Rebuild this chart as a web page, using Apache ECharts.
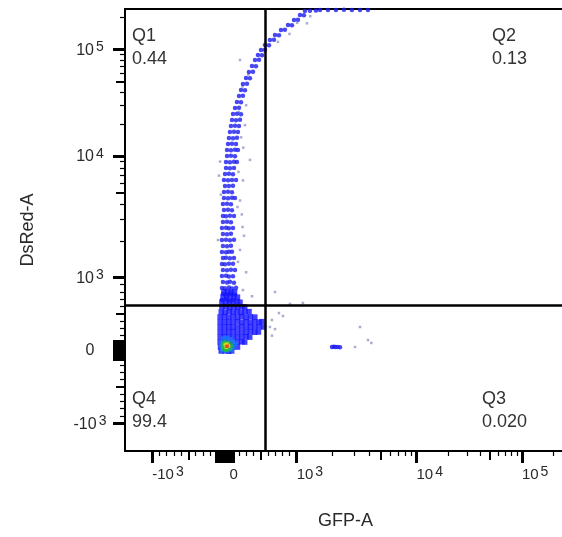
<!DOCTYPE html>
<html><head><meta charset="utf-8">
<script src="https://cdn.jsdelivr.net/npm/echarts@6/dist/echarts.min.js"></script>
<style>html,body{margin:0;padding:0;background:#fff}#c{width:562px;height:537px}</style>
</head><body><div id="c"></div>
<script>
// ---- axis ranges (raw fluorescence units) and gates ----
const xRange = [-1689, 262144];
const yRange = [-1693, 239700];
const gateX = 568;
const gateY = 613;

// ---- quadrant statistics ----
const quadrantNames = ['Q1', 'Q2', 'Q3', 'Q4'];
const quadrantValues = ['0.44', '0.13', '0.020', '99.4'];

// ---- tick marks (raw units) ----
const majorTicks = [-1000, 1000, 10000, 100000];
const zeroBlockTicks = [-120, -96, -72, -48, -24, 0, 24, 48, 72, 96, 120];
const mediumTicks = [-500, 500, 5000, 50000];
const minorTicks = [-900, -800, -700, -600, -400, -300, -200, 200, 300, 400, 600, 700, 800, 900,
  2000, 3000, 4000, 6000, 7000, 8000, 9000, 20000, 30000, 40000, 60000, 70000, 80000, 90000, 200000];
const tickLabelValues = [-1000, 0, 1000, 10000, 100000];
const tickLabelBase = ['-10', '0', '10', '10', '10'];
const tickLabelExp = ['3', '', '3', '4', '5'];

// ---- events [GFP-A, DsRed-A], by density level ----
const sparsePts = [
  [284,19500],[353,9300],[256,6300],[215,4300],[240,3300],[270,2200],[215,1680],[187,1340],[256,825],[381,740],
  [-90,2030],[-76,6900],[215,79700],[1010,178000],[1219,176000],[741,117700],[700,798],[1128,647],[810,469],
  [755,510],[907,635],[658,415],[630,319],[700,290],[658,200],[230,15000],[260,12000],[200,26000],[300,30000],
  [180,3800],[250,2600],[300,1100],[-60,9000],[-50,4800],[195,7400],[250,45000],[330,58000],[560,95000],
  [900,140000],[1300,205000],[3069,45],[3377,319],[3936,140],[4200,100]
];
const streamPts = [
  [-35,688],[21,700],[62,680],[118,690],
  [-21,771],[35,765],[90,775],[146,760],
  [-35,853],[7,850],[62,860],[104,845],[160,855],
  [-21,935],[35,930],[76,940],[132,925],
  [-35,1024],[21,1030],[62,1015],[118,1020],
  [-21,1148],[35,1140],[90,1155],[146,1150],
  [-35,1287],[7,1280],[62,1295],[118,1290],
  [-21,1442],[21,1450],[76,1435],[132,1445],
  [-35,1616],[21,1610],[62,1625],[104,1620],
  [-21,1811],[35,1800],[90,1820],
  [-35,2028],[21,2035],[76,2020],[132,2040],
  [-21,2275],[35,2260],[90,2290],
  [-35,2550],[21,2560],[62,2540],[118,2555],
  [-21,2857],[35,2870],[90,2845],
  [-21,3202],[21,3190],[76,3215],[132,3200],
  [-7,3589],[49,3600],[104,3575],
  [-21,4023],[35,4040],[90,4010],
  [-7,4508],[49,4490],[104,4520],[146,4500],
  [-7,5052],[49,5070],[104,5040],
  [7,5662],[62,5650],[118,5680],
  [-7,6345],[49,6330],[104,6360],[160,6340],
  [7,7111],[62,7130],[118,7090],
  [21,7970],[76,7950],[132,7990],
  [21,8932],[76,8900],[132,8960],[173,8920],
  [35,10016],[90,10050],[146,9980],
  [35,11400],[90,11350],[146,11450],[187,11420],
  [49,12985],[104,13050],[160,12950],
  [62,14780],[118,14700],[173,14850],
  [76,16830],[132,16900],[187,16780],
  [90,19150],[146,19250],[201,19100],
  [104,21800],[160,21700],[215,21900],
  [118,24810],[173,24900],[229,24700],
  [146,28250],[201,28400],
  [173,32170],[229,32000],
  [201,36620],[256,36800],
  [229,41660],[284,41500],
  [256,47470],[312,47700],
  [298,54030],[353,53800],
  [339,61520],[395,61800],
  [381,70000],[436,69700],
  [423,79660],[478,80000],
  [464,88870],[520,88500],
  [506,98850],[561,99300],
  [561,110100],[617,109600],
  [630,122700],[686,123300],
  [700,136700],[755,136000],
  [783,152400],[838,153200],
  [880,169900],[935,169000],
  [963,189200],[1025,190100],
  [1066,210800],[1150,209900],
  [1173,229400],[1291,230500],[1448,231500],
  [1566,234700],[1825,235200],[2128,234900],[2481,235300],[2890,234800],[3377,235100],[3936,234900],
  [1971,45],[2040,48],[2110,44],[2200,46],[2300,43]
];
const blobPts = [
  [-7,798],[40,805],[90,790],[140,800],
  [-20,730],[30,735],[80,725],[130,732],[180,728],
  [-35,661],[15,665],[70,655],[125,660],[175,668],[215,658],
  [-35,593],[20,598],[75,590],[130,595],[185,588],[240,596],[280,592],
  [-45,524],[10,520],[65,528],[120,522],[175,526],[230,518],[285,524],[340,530],
  [-60,456],[0,460],[60,452],[120,458],[180,455],[240,462],[300,450],[360,458],[420,455],
  [-60,387],[0,390],[60,384],[120,388],[180,392],[240,385],[300,389],[360,383],[420,390],[480,386],[520,392],
  [-60,319],[0,322],[60,316],[120,320],[180,318],[240,324],[300,317],[360,321],[420,318],[480,322],[540,319],
  [-60,250],[0,252],[60,248],[120,255],[180,246],[240,251],[300,249],[360,253],[420,247],[470,250],
  [-60,182],[0,185],[60,180],[120,184],[180,178],[240,183],[300,186],[350,180],
  [-60,113],[0,116],[60,110],[120,114],[180,111],[240,117],[280,112],
  [-55,45],[0,48],[60,42],[120,46],[180,44],
  [-45,-10],[10,-8],[60,-12],[100,-9]
];
const cyanPts = [[-20,160],[30,170],[80,150],[120,120],[150,90],[-40,100],[-40,40],[130,40],[100,0],[30,-5],[-30,0]];
const greenPts = [[-20,100],[20,110],[60,100],[-25,60],[90,65],[-20,20],[80,25],[20,5],[50,10]];
const yellowPts = [[10,75],[35,85],[55,60],[25,40]];
const redPts = [[40,60],[30,52]];

// ---- biexponential-style display transform (linear near 0, log beyond +-10^3) ----
const LIN = 1000, D1 = 1.66, D2 = 1.46;
function tf(v) {
  const a = Math.abs(v), s = v < 0 ? -1 : 1;
  let t;
  if (a <= LIN) t = a / LIN;
  else {
    const L = Math.log10(a);
    t = L <= 4 ? 1 + (L - 3) * D1 : 1 + D1 + (L - 4) * D2;
  }
  return s * t;
}
const pts = arr => arr.map(p => [tf(p[0]), tf(p[1])]);

const FONT = "'Liberation Sans', Arial, sans-serif";
const TXT = '#2a2a2a';

function nearest(v) {
  let bi = 0, bd = Infinity;
  tickLabelValues.forEach((u, i) => { const d = Math.abs(tf(u) - v); if (d < bd) { bd = d; bi = i; } });
  return bi;
}
function fmt(v) {
  const i = nearest(v);
  return tickLabelExp[i] ? '{b|' + tickLabelBase[i] + '}{s|' + tickLabelExp[i] + '}' : '{z|' + tickLabelBase[i] + '}';
}

function mkAxis(kind, role) {
  const range = kind === 'x' ? xRange : yRange;
  const ax = {
    type: 'value', gridIndex: 0, min: tf(range[0]), max: tf(range[1]),
    position: kind === 'x' ? 'bottom' : 'left',
    axisLine: { show: false, onZero: false },
    splitLine: { show: false },
    axisLabel: { show: false },
    axisTick: { show: true, inside: false }
  };
  if (role === 'major') {
    ax.axisTick = { show: true, inside: false, length: 12, lineStyle: { color: '#000', width: 3 },
      customValues: majorTicks.concat(zeroBlockTicks).map(tf) };
    const rich = kind === 'x' ? {
      b: { fontSize: 15, lineHeight: 17, padding: [12, 0, 0, 0], verticalAlign: 'bottom', color: TXT, fontFamily: FONT },
      s: { fontSize: 14, lineHeight: 16, padding: [0, 0, 0, 2], verticalAlign: 'top', color: TXT, fontFamily: FONT },
      z: { fontSize: 15, lineHeight: 17, padding: [12, 0, 0, 5], verticalAlign: 'bottom', color: TXT, fontFamily: FONT }
    } : {
      b: { fontSize: 16, lineHeight: 18, padding: [12, 0, 0, 0], verticalAlign: 'bottom', color: TXT, fontFamily: FONT },
      s: { fontSize: 14, lineHeight: 16, padding: [0, 0, 0, 2], verticalAlign: 'top', color: TXT, fontFamily: FONT },
      z: { fontSize: 16, lineHeight: 18, color: TXT, fontFamily: FONT }
    };
    ax.axisLabel = {
      show: true, customValues: tickLabelValues.map(tf), formatter: fmt, rich: rich,
      align: kind === 'x' ? 'left' : 'center', margin: kind === 'x' ? 14 : 35
    };
    ax.name = kind === 'x' ? 'GFP-A' : 'DsRed-A';
    ax.nameLocation = 'middle';
    ax.nameGap = kind === 'x' ? 61 : 88;
    ax.nameTextStyle = { fontSize: 18, color: TXT, fontFamily: FONT };
  } else if (role === 'medium') {
    ax.axisTick = { show: true, inside: false, length: 9, lineStyle: { color: '#000', width: 2 },
      customValues: mediumTicks.map(tf) };
  } else {
    ax.axisTick = { show: true, inside: false, length: 5, lineStyle: { color: '#000', width: 1.2 },
      customValues: minorTicks.map(tf) };
  }
  return ax;
}

function sc(name, data, color, size, symbol) {
  return { name: name, type: 'scatter', data: pts(data), symbol: symbol || 'rect', symbolSize: size,
    itemStyle: { color: color }, silent: true, animation: false };
}

const chart = echarts.init(document.getElementById('c'), null, { renderer: 'canvas' });

const qStyle = { font: "18px 'Liberation Sans', Arial, sans-serif", fill: '#333', lineHeight: 23 };
chart.setOption({
  animation: false,
  backgroundColor: '#fff',
  grid: { left: 125, top: 9, right: -4, bottom: 86, show: true, borderColor: '#000', borderWidth: 2,
    outerBoundsMode: 'none', containLabel: false },
  xAxis: [mkAxis('x', 'major'), mkAxis('x', 'medium'), mkAxis('x', 'minor')],
  yAxis: [mkAxis('y', 'major'), mkAxis('y', 'medium'), mkAxis('y', 'minor')],
  series: [
    sc('sparse', sparsePts, 'rgba(105,105,175,0.7)', 2.5),
    sc('stream', streamPts, '#1c1cf0', 4.5, 'circle'),
    sc('dense', blobPts, '#1414ff', 5.5),
    sc('high', cyanPts, '#1a78ff', 4.5),
    sc('higher', greenPts, '#22c040', 4),
    sc('peak', yellowPts, '#e6e020', 3.5),
    sc('max', redPts, '#ff3a10', 3),
    {
      type: 'scatter', data: [], silent: true, z: 10,
      markLine: {
        silent: true, symbol: ['none', 'none'], animation: false, label: { show: false },
        lineStyle: { color: '#000', width: 2.5, type: 'solid' },
        data: [{ xAxis: tf(gateX) }, { yAxis: tf(gateY) }]
      }
    }
  ],
  graphic: [
    { type: 'text', left: 132, top: 25, style: Object.assign({ text: quadrantNames[0] + '\n' + quadrantValues[0], align: 'left' }, qStyle) },
    { type: 'text', right: 35, top: 25, style: Object.assign({ text: quadrantNames[1] + '\n' + quadrantValues[1], align: 'right' }, qStyle) },
    { type: 'text', right: 35, top: 388, style: Object.assign({ text: quadrantNames[2] + '\n' + quadrantValues[2], align: 'right' }, qStyle) },
    { type: 'text', left: 132, top: 388, style: Object.assign({ text: quadrantNames[3] + '\n' + quadrantValues[3], align: 'left' }, qStyle) }
  ]
});
</script>
</body></html>
